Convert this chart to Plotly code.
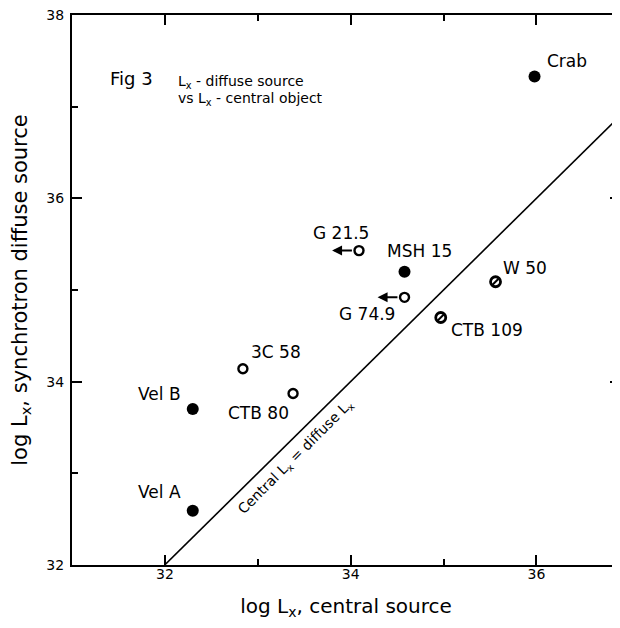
import plotly.graph_objects as go

# Data
names = ["Crab", "MSH 15", "Vel B", "Vel A", "G 21.5", "G 74.9", "3C 58", "CTB 80", "CTB 109", "W 50"]
log_lx_central = [35.98, 34.58, 32.30, 32.30, 34.09, 34.58, 32.84, 33.38, 34.97, 35.56]
log_lx_diffuse = [37.33, 35.20, 33.70, 32.59, 35.43, 34.92, 34.14, 33.87, 34.70, 35.09]
kinds = ["filled", "filled", "filled", "filled", "open", "open", "open", "open", "slash", "slash"]
upper_limit = [False, False, False, False, True, True, False, False, False, False]
label_x = [36.33, 34.74, 31.94, 31.94, 33.90, 34.18, 33.20, 33.01, 35.47, 35.88]
label_y = [37.50, 35.43, 33.87, 32.79, 35.62, 34.74, 34.32, 33.66, 34.56, 35.24]
equality = [32, 37]

FONT = "DejaVu Sans"
fig = go.Figure()

fig.add_trace(go.Scatter(x=equality, y=equality, mode="lines",
                         line=dict(color="black", width=1.6), hoverinfo="skip"))

def sel(kind, arr):
    return [v for v, k in zip(arr, kinds) if k == kind]

fig.add_trace(go.Scatter(x=sel("filled", log_lx_central), y=sel("filled", log_lx_diffuse),
                         mode="markers", marker=dict(symbol="circle", size=12, color="black")))
fig.add_trace(go.Scatter(x=sel("open", log_lx_central), y=sel("open", log_lx_diffuse),
                         mode="markers", marker=dict(symbol="circle-open", size=9, color="black",
                                                     line=dict(color="black", width=2.4))))
fig.add_trace(go.Scatter(x=sel("slash", log_lx_central), y=sel("slash", log_lx_diffuse),
                         mode="markers", marker=dict(symbol="circle-open", size=10, color="black",
                                                     line=dict(color="black", width=2.8))))
fig.add_trace(go.Scatter(x=sel("slash", log_lx_central), y=sel("slash", log_lx_diffuse),
                         mode="markers", marker=dict(symbol="line-ne", size=6, color="black",
                                                     line=dict(color="black", width=2))))

ann = []
for n, lx, ly in zip(names, label_x, label_y):
    ann.append(dict(x=lx, y=ly, text=n, showarrow=False,
                    font=dict(family=FONT, size=17, color="black")))

for x, y, up in zip(log_lx_central, log_lx_diffuse, upper_limit):
    if up:
        ann.append(dict(x=x - 0.29, y=y, ax=x - 0.06, ay=y, xref="x", yref="y",
                        axref="x", ayref="y", text="", showarrow=True,
                        arrowhead=2, arrowsize=1.0, arrowwidth=2, arrowcolor="black"))

ann.append(dict(x=33.41, y=33.18, text="Central L<sub>x</sub> = diffuse L<sub>x</sub>",
                textangle=-45, showarrow=False,
                font=dict(family=FONT, size=14, color="black")))
ann.append(dict(xref="paper", yref="paper", x=0.066, y=0.884, xanchor="left", yanchor="middle",
                text="Fig 3", showarrow=False,
                font=dict(family=FONT, size=18, color="black")))
ann.append(dict(xref="paper", yref="paper", x=0.190, y=0.879, xanchor="left", yanchor="middle",
                text="L<sub>x</sub> - diffuse source", showarrow=False,
                font=dict(family=FONT, size=14, color="black")))
ann.append(dict(xref="paper", yref="paper", x=0.190, y=0.847, xanchor="left", yanchor="middle",
                text="vs L<sub>x</sub> - central object", showarrow=False,
                font=dict(family=FONT, size=14, color="black")))

axis_common = dict(showgrid=False, zeroline=False, showline=True, linecolor="black",
                   linewidth=2, mirror="ticks", ticks="inside", ticklen=10, tickwidth=1.5,
                   tickcolor="black", dtick=2, automargin=False, ticklabeloverflow="allow",
                   minor=dict(ticks="inside", ticklen=6, dtick=1, tickwidth=1.5, tickcolor="black"),
                   tickfont=dict(family=FONT, size=14, color="black"))

fig.update_layout(
    width=612, height=620,
    margin=dict(l=64, r=0, t=7, b=63),
    paper_bgcolor="white", plot_bgcolor="white",
    showlegend=False,
    xaxis=dict(range=[31, 36.9], tick0=32, ticklabelstandoff=-5,
               title=dict(text="log L<sub>x</sub>, central source", standoff=18,
                          font=dict(family=FONT, size=20, color="black")),
               **axis_common),
    yaxis=dict(range=[31.998, 38.002], tick0=32, ticklabelstandoff=3,
               title=dict(text="log L<sub>x</sub>, synchrotron diffuse source", standoff=14,
                          font=dict(family=FONT, size=21, color="black")),
               **axis_common),
    annotations=ann,
)

fig.write_html("out.html")
